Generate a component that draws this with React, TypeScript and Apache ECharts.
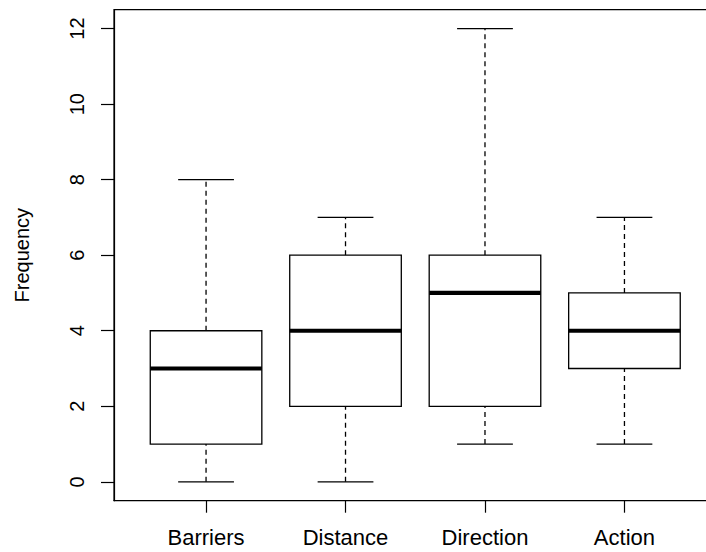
import React, { useEffect, useRef } from "react";
import * as echarts from "echarts";

const categories = ["Barriers", "Distance", "Direction", "Action"];
const mins = [0, 0, 1, 1];
const q1s = [1, 2, 2, 3];
const medians = [3, 4, 5, 4];
const q3s = [4, 6, 6, 5];
const maxs = [8, 7, 12, 7];
const yTicks = [0, 2, 4, 6, 8, 10, 12];

export default function App() {
  const ref = useRef<HTMLDivElement>(null);
  useEffect(() => {
    if (!ref.current) return;
    const chart = echarts.init(ref.current, null, { renderer: "svg" });
    const data = categories.map((c, i) => [i + 1, mins[i], q1s[i], medians[i], q3s[i], maxs[i]]);
    const font = "'Liberation Sans', Arial, sans-serif";
    chart.setOption({
      animation: false,
      backgroundColor: "#fff",
      grid: {
        left: 114,
        top: 9.7,
        bottom: 51.3,
        right: 0.5,
        show: true,
        borderColor: "#000",
        borderWidth: 1.2,
        backgroundColor: "transparent",
      },
      xAxis: {
        type: "value",
        min: 0.34,
        max: 4.66,
        axisLine: { show: true, onZero: false, lineStyle: { color: "#000", width: 1.2 } },
        splitLine: { show: false },
        axisTick: {
          show: true,
          length: 12,
          customValues: categories.map((_, i) => i + 1),
          lineStyle: { color: "#000", width: 1.2 },
        },
        axisLabel: {
          customValues: categories.map((_, i) => i + 1),
          formatter: (v: number) => categories[Math.round(v) - 1] ?? "",
          margin: 26,
          fontSize: 22,
          fontFamily: font,
          color: "#000",
        },
      },
      yAxis: {
        type: "value",
        min: -0.5,
        max: 12.5,
        name: "Frequency",
        nameLocation: "middle",
        nameGap: 82,
        nameTextStyle: { fontSize: 20, fontFamily: font, color: "#000" },
        axisLine: { show: true, onZero: false, lineStyle: { color: "#000", width: 1.2 } },
        splitLine: { show: false },
        axisTick: {
          show: true,
          length: 13,
          customValues: yTicks,
          lineStyle: { color: "#000", width: 1.2 },
        },
        axisLabel: {
          customValues: yTicks,
          rotate: 90,
          margin: 27,
          fontSize: 20,
          fontFamily: font,
          color: "#000",
        },
      },
      series: [
        {
          type: "custom",
          data,
          clip: false,
          renderItem: (params: any, api: any) => {
            const x = api.value(0);
            const mn = api.value(1);
            const q1 = api.value(2);
            const md = api.value(3);
            const q3 = api.value(4);
            const mx = api.value(5);
            const pMin = api.coord([x, mn]);
            const pQ1 = api.coord([x, q1]);
            const pMd = api.coord([x, md]);
            const pQ3 = api.coord([x, q3]);
            const pMax = api.coord([x, mx]);
            const left = api.coord([x - 0.4, q1])[0];
            const right = api.coord([x + 0.4, q1])[0];
            const cl = api.coord([x - 0.2, q1])[0];
            const cr = api.coord([x + 0.2, q1])[0];
            const solid = { stroke: "#000", lineWidth: 1.3 };
            const dashed = { stroke: "#000", lineWidth: 1.3, lineDash: [5, 4] };
            return {
              type: "group",
              children: [
                { type: "line", shape: { x1: pQ3[0], y1: pQ3[1], x2: pMax[0], y2: pMax[1] }, style: dashed },
                { type: "line", shape: { x1: pMin[0], y1: pMin[1], x2: pQ1[0], y2: pQ1[1] }, style: dashed },
                { type: "line", shape: { x1: cl, y1: pMax[1], x2: cr, y2: pMax[1] }, style: solid },
                { type: "line", shape: { x1: cl, y1: pMin[1], x2: cr, y2: pMin[1] }, style: solid },
                {
                  type: "rect",
                  shape: { x: left, y: pQ3[1], width: right - left, height: pQ1[1] - pQ3[1] },
                  style: { fill: "#fff", stroke: "#000", lineWidth: 1.3 },
                },
                { type: "line", shape: { x1: left, y1: pMd[1], x2: right, y2: pMd[1] }, style: { stroke: "#000", lineWidth: 4.2 } },
              ],
            };
          },
        },
      ],
    });
    return () => chart.dispose();
  }, []);
  return (
    <div style={{ position: "fixed", left: 0, top: 0, width: 706, height: 552, overflow: "hidden" }}>
      <div ref={ref} style={{ width: 717, height: 552 }} />
    </div>
  );
}
